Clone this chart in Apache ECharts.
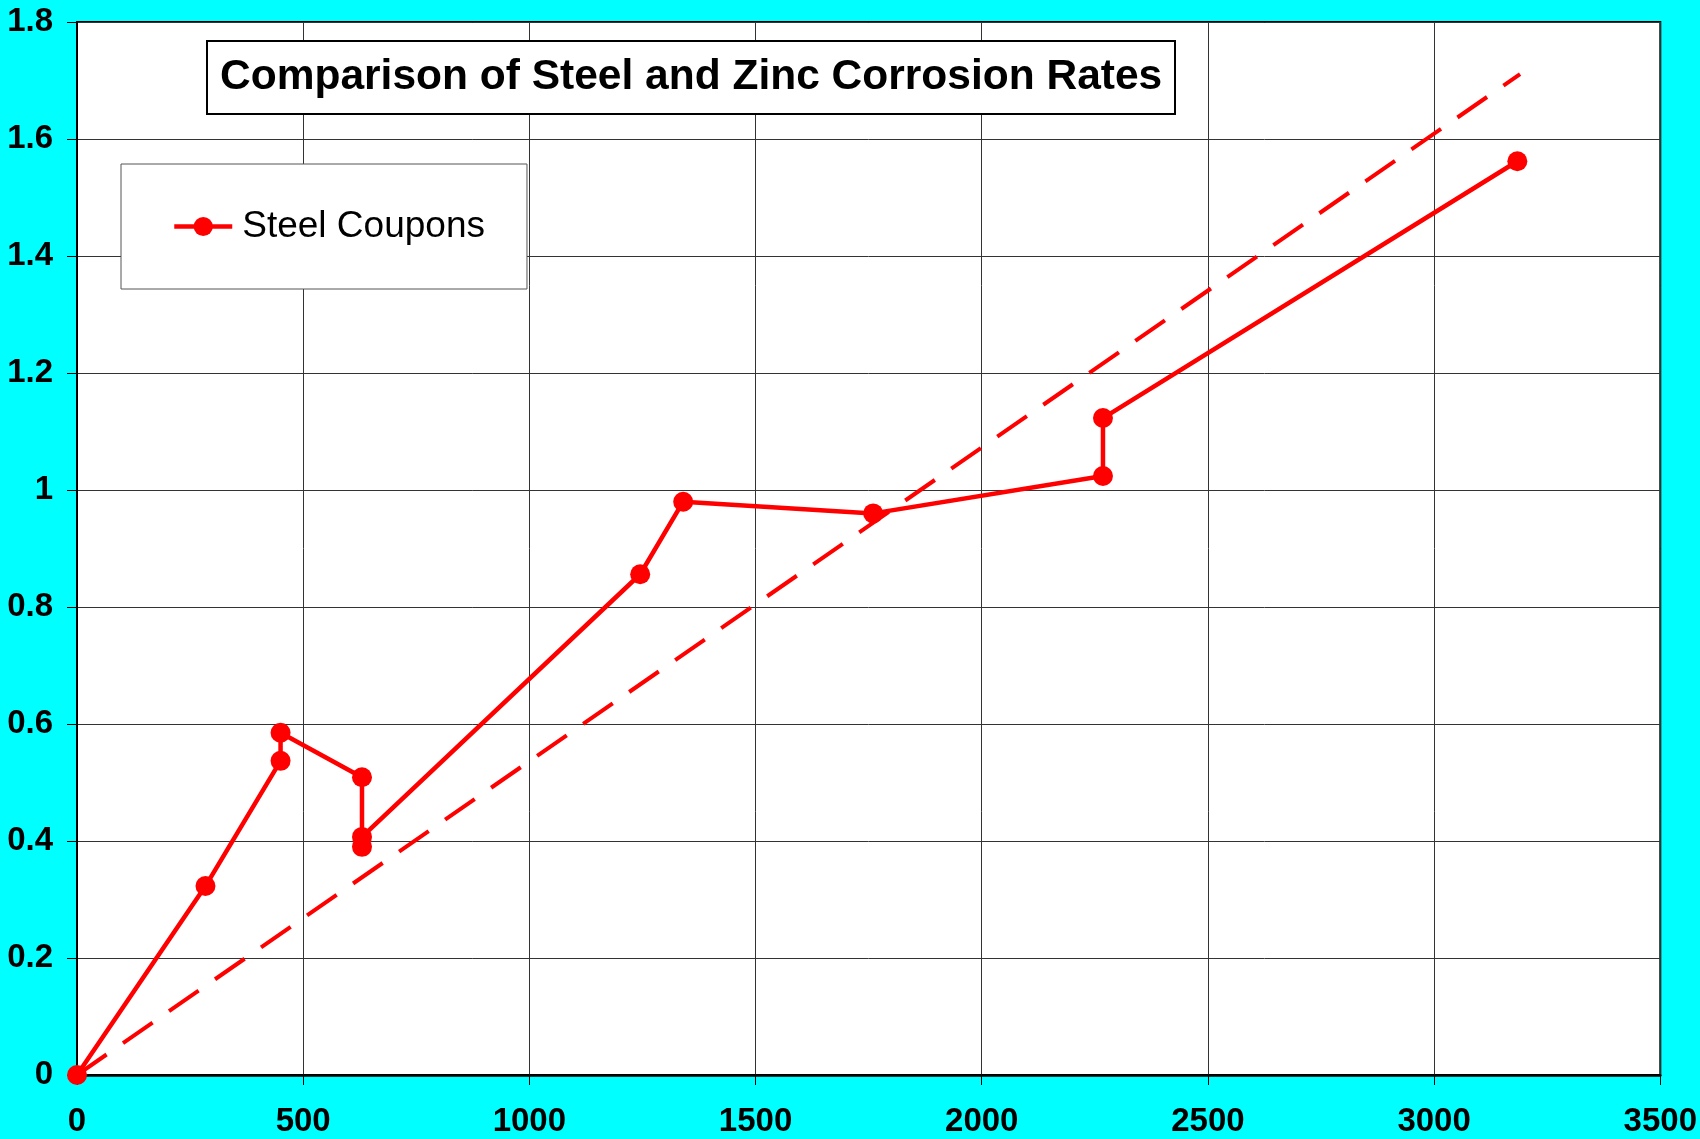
<!DOCTYPE html>
<html>
<head>
<meta charset="utf-8">
<title>Comparison of Steel and Zinc Corrosion Rates</title>
<script src="https://cdn.jsdelivr.net/npm/echarts@6/dist/echarts.min.js"></script>
<style>
  html, body { margin: 0; padding: 0; background: #00ffff; }
  #chart { width: 1700px; height: 1139px; }
</style>
</head>
<body>
<div id="chart"></div>
<script>
// steel coupons
const xValues = [0, 284, 450, 450, 630, 630, 630, 1245, 1340, 1760, 2268, 2268, 3184];
const steelRate = [0, 0.323, 0.537, 0.585, 0.509, 0.390, 0.407, 0.856, 0.980, 0.960, 1.024, 1.123, 1.562];
// dashed trend line end points
const trendX = [0, 3190];
const trendY = [0, 1.711];
const xTicks = { min: 0, max: 3500, interval: 500 };
const yTicks = { min: 0, max: 1.8, interval: 0.2 };

const font = "'Liberation Sans', Arial, sans-serif";

const chart = echarts.init(document.getElementById("chart"));

const option = {
  backgroundColor: "#00ffff",
  animation: false,
  title: {
    text: "Comparison of Steel and Zinc Corrosion Rates",
    left: 207,
    top: 41,
    padding: [15, 13],
    backgroundColor: "#fff",
    borderColor: "#000",
    borderWidth: 2,
    textStyle: {
      fontFamily: font,
      fontSize: 42.5,
      fontWeight: "bold",
      color: "#000"
    }
  },
  legend: {
    data: ["Steel Coupons"],
    left: 121,
    top: 164,
    padding: [44, 42, 44, 51],
    backgroundColor: "#fff",
    borderColor: "#555",
    borderWidth: 1,
    itemWidth: 58,
    itemHeight: 24,
    lineStyle: { width: 4.5 },
    textStyle: {
      fontFamily: font,
      fontSize: 37,
      color: "#000",
      padding: [0, 0, 0, 5]
    }
  },
  grid: {
    left: 77,
    right: 35,
    top: 22,
    bottom: 64,
    show: true,
    backgroundColor: "#fff",
    borderColor: "#000",
    borderWidth: 2
  },
  xAxis: {
    type: "value",
    min: xTicks.min,
    max: xTicks.max,
    interval: xTicks.interval,
    axisLine: { show: true, lineStyle: { color: "#000", width: 2.5 } },
    axisTick: { show: true, inside: false, length: 10, lineStyle: { color: "#000", width: 1 } },
    axisLabel: {
      margin: 30,
      fontFamily: font,
      fontSize: 33,
      fontWeight: "bold",
      color: "#000",
      formatter: function (v) {
        return String(v);
      }
    },
    splitLine: { show: true, lineStyle: { color: "#333", width: 1 } }
  },
  yAxis: {
    type: "value",
    min: yTicks.min,
    max: yTicks.max,
    interval: yTicks.interval,
    axisLine: { show: true, lineStyle: { color: "#000", width: 2 } },
    axisTick: { show: true, inside: false, length: 10, lineStyle: { color: "#000", width: 1 } },
    axisLabel: {
      margin: 24,
      fontFamily: font,
      fontSize: 33,
      fontWeight: "bold",
      color: "#000",
      formatter: function (v) {
        return String(Math.round(v * 10) / 10);
      }
    },
    splitLine: { show: true, lineStyle: { color: "#333", width: 1 } }
  },
  series: [
    {
      name: "Trend",
      type: "line",
      data: trendX.map((x, i) => [x, trendY[i]]),
      symbol: "none",
      lineStyle: { color: "#ff0000", width: 4, type: [36, 20] },
      z: 2
    },
    {
      name: "Steel Coupons",
      type: "line",
      data: xValues.map((x, i) => [x, steelRate[i]]),
      symbol: "circle",
      symbolSize: 20,
      itemStyle: { color: "#ff0000" },
      lineStyle: { color: "#ff0000", width: 4.5 },
      z: 3
    }
  ]
};

chart.setOption(option);
</script>
</body>
</html>
